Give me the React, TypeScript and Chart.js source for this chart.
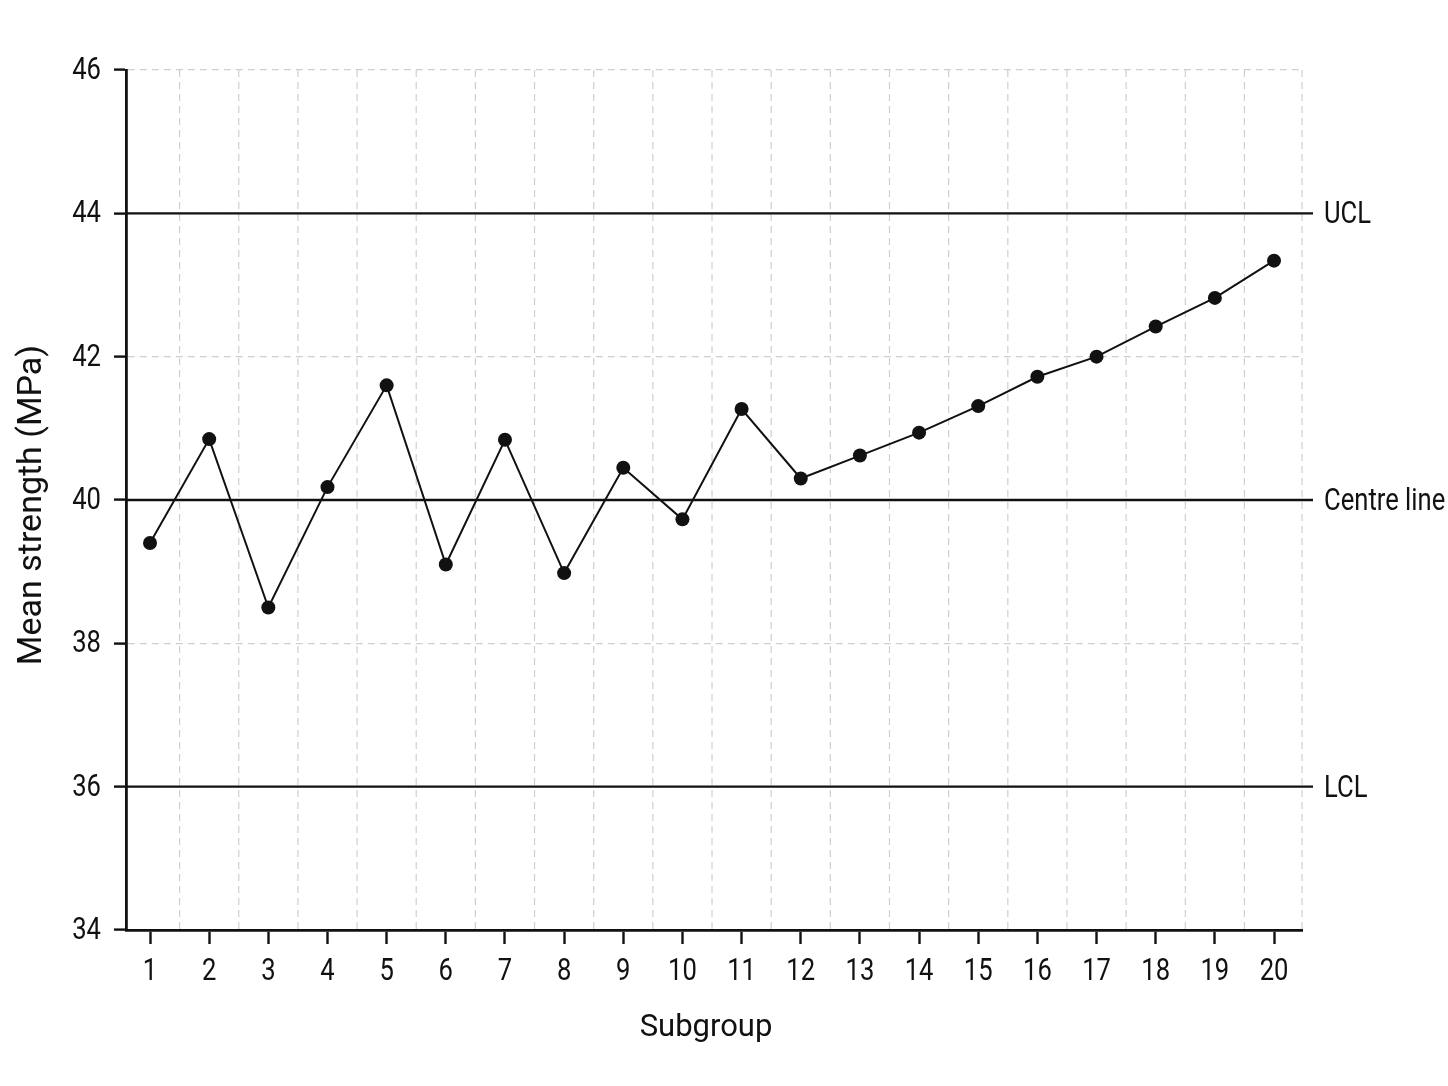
import React, { useEffect, useRef } from "react";
import { Chart, registerables } from "chart.js";

Chart.register(...registerables);

// subgroup numbers and their mean strengths (MPa)
const subgroups = [1, 2, 3, 4, 5, 6, 7, 8, 9, 10, 11, 12, 13, 14, 15, 16, 17, 18, 19, 20];
const meanStrength = [
  39.4, 40.85, 38.5, 40.18, 41.6, 39.1, 40.84, 38.98, 40.45, 39.73,
  41.27, 40.3, 40.62, 40.94, 41.31, 41.72, 42.0, 42.42, 42.82, 43.34,
];
const yTicks = [34, 36, 38, 40, 42, 44, 46];

// control limits
const limitNames = ["UCL", "Centre line", "LCL"];
const limitValues = [44, 40, 36];

const labelFont = 'Roboto, "Noto Sans", sans-serif';
const squeeze = 0.8; // the original uses a condensed face

// draw text horizontally condensed
function narrowText(ctx: CanvasRenderingContext2D, text: string, x: number, y: number, align: string) {
  ctx.save();
  ctx.translate(x, y);
  ctx.scale(squeeze, 1);
  ctx.textAlign = align as CanvasTextAlign;
  ctx.fillText(text, 0, 0);
  ctx.restore();
}

const controlPlugin = {
  id: "controlLines",
  beforeDatasetsDraw(chart: any) {
    const { ctx, chartArea } = chart;
    const x = chart.scales.x;
    const y = chart.scales.y;
    ctx.save();

    // dashed vertical grid between subgroups, plus the right edge
    ctx.strokeStyle = "#cfcfcf";
    ctx.lineWidth = 1.2;
    ctx.setLineDash([7, 5]);
    const xs = subgroups.map((s) => x.getPixelForValue(s));
    const gx: number[] = [];
    for (let i = 0; i < xs.length - 1; i++) gx.push((xs[i] + xs[i + 1]) / 2);
    gx.push(chartArea.right);
    gx.forEach((px) => {
      ctx.beginPath();
      ctx.moveTo(px, chartArea.top);
      ctx.lineTo(px, chartArea.bottom);
      ctx.stroke();
    });

    // control lines
    ctx.setLineDash([]);
    ctx.strokeStyle = "#111";
    ctx.lineWidth = 2.4;
    ctx.fillStyle = "#111";
    ctx.font = `32px ${labelFont}`;
    ctx.textBaseline = "middle";
    limitValues.forEach((v, i) => {
      const py = y.getPixelForValue(v);
      ctx.beginPath();
      ctx.moveTo(chartArea.left, py);
      ctx.lineTo(chartArea.right + 11, py);
      ctx.stroke();
      narrowText(ctx, limitNames[i], chartArea.right + 22, py + 2, "left");
    });
    ctx.restore();
  },
  afterDraw(chart: any) {
    const { ctx, chartArea } = chart;
    const x = chart.scales.x;
    const y = chart.scales.y;
    ctx.save();
    ctx.fillStyle = "#111";

    // tick labels
    ctx.font = `32px ${labelFont}`;
    ctx.textBaseline = "middle";
    x.ticks.forEach((t: any) => {
      narrowText(ctx, String(t.value), x.getPixelForValue(t.value), chartArea.bottom + 42, "center");
    });
    y.ticks.forEach((t: any) => {
      narrowText(ctx, String(t.value), chartArea.left - 25, y.getPixelForValue(t.value) + 1, "right");
    });

    // axis titles
    ctx.font = `31px ${labelFont}`;
    ctx.textAlign = "center";
    ctx.fillText("Subgroup", (chartArea.left + chartArea.right) / 2 - 8, chartArea.bottom + 98);
    ctx.font = `34px ${labelFont}`;
    ctx.translate(32, (chartArea.top + chartArea.bottom) / 2 + 5);
    ctx.rotate(-Math.PI / 2);
    ctx.fillText("Mean strength (MPa)", 0, 0);
    ctx.restore();
  },
};

const App: React.FC = () => {
  const chartRef = useRef<HTMLCanvasElement | null>(null);
  const chartInstance = useRef<Chart | null>(null);

  useEffect(() => {
    if (chartInstance.current) {
      chartInstance.current.destroy();
    }
    if (!chartRef.current) return;

    chartInstance.current = new Chart(chartRef.current, {
      type: "line",
      data: {
        datasets: [
          {
            data: subgroups.map((s, i) => ({ x: s, y: meanStrength[i] })),
            borderColor: "#111",
            borderWidth: 2,
            pointRadius: 7,
            pointBackgroundColor: "#111",
            pointBorderWidth: 0,
            tension: 0,
          },
        ],
      },
      options: {
        responsive: false,
        animation: false,
        layout: { padding: { top: 70, right: 146, left: 0, bottom: 0 } },
        plugins: { legend: { display: false }, tooltip: { enabled: false } },
        scales: {
          x: {
            type: "linear",
            min: 0.594,
            max: 20.473,
            afterBuildTicks: (scale: any) => {
              scale.ticks = subgroups.map((v) => ({ value: v }));
            },
            afterFit: (scale: any) => {
              scale.height = 156;
            },
            grid: {
              drawOnChartArea: false,
              tickLength: 14,
              tickColor: "#111",
              tickWidth: 2.4,
            },
            border: { color: "#111", width: 2.8 },
            ticks: { display: false },
          },
          y: {
            min: 34,
            max: 46,
            afterBuildTicks: (scale: any) => {
              scale.ticks = yTicks.map((v) => ({ value: v }));
            },
            afterFit: (scale: any) => {
              scale.width = 126;
            },
            grid: {
              color: "#cfcfcf",
              lineWidth: 1.2,
              tickLength: 12,
              tickColor: "#111",
              tickWidth: 2.4,
            },
            border: { color: "#111", width: 2.8, dash: [7, 5] },
            ticks: { display: false },
          },
        },
      },
      plugins: [controlPlugin],
    } as any);

    return () => {
      if (chartInstance.current) {
        chartInstance.current.destroy();
      }
    };
  }, []);

  return (
    <div style={{ position: "absolute", left: 0, top: 0, width: 1448, height: 1086, background: "#fff" }}>
      <canvas ref={chartRef} width={1448} height={1086}></canvas>
    </div>
  );
};

export default App;
